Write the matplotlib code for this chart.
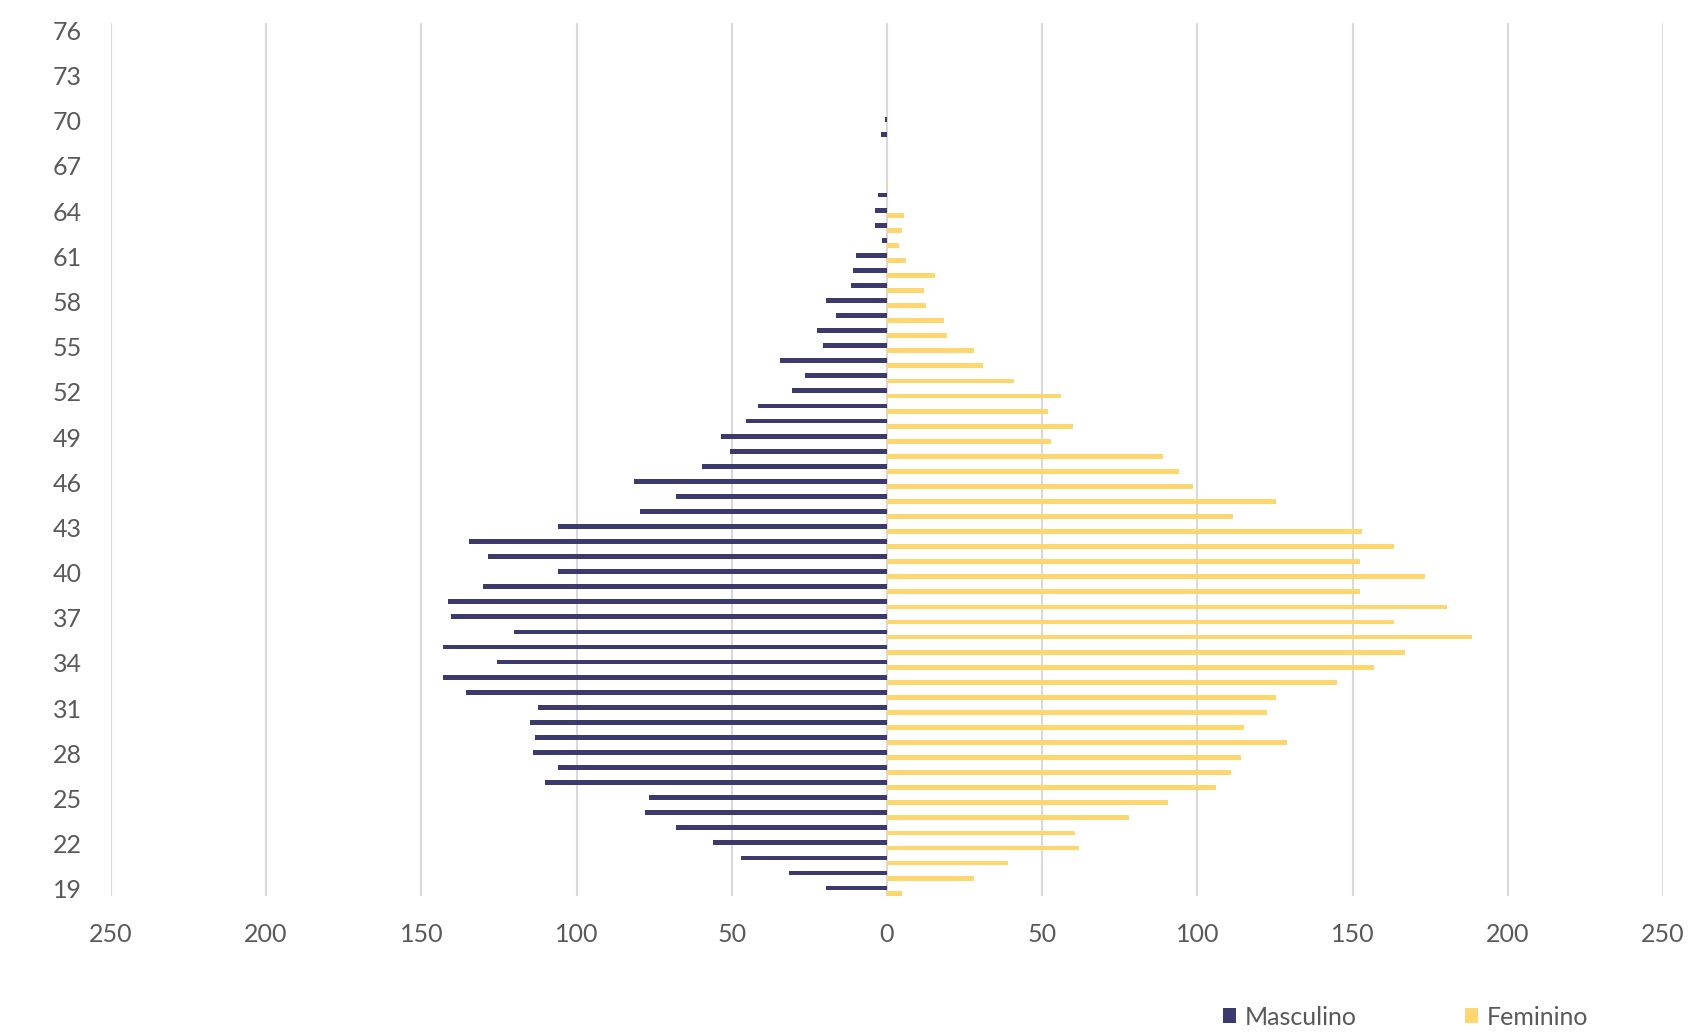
import matplotlib.pyplot as plt
import numpy as np

plt.rcParams["font.family"] = ["Lato", "DejaVu Sans"]

# idades 19..76
idades = list(range(19, 77))

masculino = [19.5, 31.5, 47, 56, 68, 78, 76.5, 110, 106, 114,
             113.5, 115, 112.5, 135.5, 143, 125.5, 143, 120, 140.5, 141.5,
             130, 106, 128.5, 134.5, 106, 79.5, 68, 81.5, 59.5, 50.5,
             53.5, 45.5, 41.5, 30.5, 26.5, 34.5, 20.5, 22.5, 16.5, 19.5,
             11.5, 11, 10, 1.5, 3.8, 4, 3, 0, 0, 0,
             2, 0.5, 0, 0, 0, 0, 0, 0]

feminino = [5, 28, 39, 62, 60.5, 78, 90.5, 106, 111, 114,
            129, 115, 122.5, 125.5, 145, 157, 167, 188.5, 163.5, 180.5,
            152.5, 173.5, 152.5, 163.5, 153, 111.5, 125.5, 98.5, 94, 89,
            53, 60, 52, 56, 41, 31, 28, 19.5, 18.5, 12.5,
            12, 15.5, 6, 4, 5, 5.5, 0, 0.5, 0, 0,
            0, 0, 0, 0, 0, 0, 0, 0]

rotulos_y = list(range(19, 77, 3))
ticks_x = [-250, -200, -150, -100, -50, 0, 50, 100, 150, 200, 250]

cor_masc = "#3C3A6C"
cor_fem = "#FCD66E"
cor_texto = "#595959"

fig = plt.figure(figsize=(16.96, 10.32), dpi=100)
ax = fig.add_axes([0.0654, 0.1313, 0.9151, 0.8467])

y = np.array(idades, dtype=float)
ax.barh(y + 0.06, -np.array(masculino), height=0.32, color=cor_masc, label="Masculino", zorder=3)
ax.barh(y - 0.28, feminino, height=0.32, color=cor_fem, label="Feminino", zorder=3)

ax.set_xlim(-250, 250)
ax.set_ylim(18.5, 76.5)
ax.set_xticks(ticks_x)
ax.set_xticklabels([str(abs(t)) for t in ticks_x])
ax.set_yticks(rotulos_y)
ax.set_yticklabels([str(r) for r in rotulos_y])

ax.tick_params(axis="both", length=0, labelsize=18, labelcolor=cor_texto)
ax.tick_params(axis="y", pad=21)
ax.tick_params(axis="x", pad=19)

ax.grid(axis="x", color="#D9D9D9", linewidth=1.5, zorder=0)
ax.grid(axis="y", visible=False)
for s in ax.spines.values():
    s.set_visible(False)

fig.legend(loc="center", bbox_to_anchor=(0.8288, 0.0145), ncol=2, frameon=False,
           fontsize=18, labelcolor=cor_texto, handlelength=0.55, handleheight=0.55,
           handletextpad=0.35, columnspacing=4.3)

fig.savefig("out.png", dpi=100)
